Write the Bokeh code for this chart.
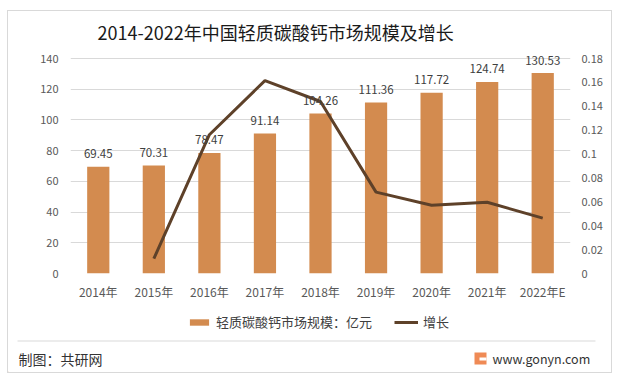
from bokeh.plotting import figure
from bokeh.models import (ColumnDataSource, LinearAxis, Range1d, FactorRange, Legend, LegendItem,
                          LabelSet, FixedTicker, CustomJSTickFormatter)
from bokeh.layouts import column
from bokeh.embed import file_html
from bokeh.resources import INLINE
from bokeh.core.properties import value

# ---- data ----
years = ["2014年", "2015年", "2016年", "2017年", "2018年", "2019年", "2020年", "2021年", "2022年E"]
market = [69.45, 70.31, 78.47, 91.14, 104.26, 111.36, 117.72, 124.74, 130.53]
growth_years = ["2015年", "2016年", "2017年", "2018年", "2019年", "2020年", "2021年", "2022年E"]
growth = [0.0124, 0.1162, 0.1615, 0.1440, 0.0681, 0.0571, 0.0596, 0.0464]
left_ticks = [0, 20, 40, 60, 80, 100, 120, 140]
right_ticks = [0, 0.02, 0.04, 0.06, 0.08, 0.10, 0.12, 0.14, 0.16, 0.18]
left_max, right_max = 140, 0.18
title_text = "2014-2022年中国轻质碳酸钙市场规模及增长"
bar_name = "轻质碳酸钙市场规模：亿元"
line_name = "增长"
source_text = "制图：共研网"
site_text = "www.gonyn.com"

FONT = "Noto Sans CJK SC"
BAR_C = "#D38B4F"
LINE_C = "#5E4129"
GRID_C = "#D9D9D9"
TXT_C = "#595959"
W = 603


def blank(height):
    fig = figure(width=W, height=height, x_range=Range1d(0, W), y_range=Range1d(0, height),
                 output_backend="svg", toolbar_location=None, min_border=0,
                 x_axis_location=None, y_axis_location=None, frame_align=False,
                 background_fill_color="white", border_fill_color="white")
    fig.grid.visible = False
    fig.outline_line_color = None
    return fig


# ---- header (title) ----
h = blank(37)
h.text(x=[89], y=[17], text=[title_text], text_font=value(FONT), text_font_size="18px",
       text_baseline="middle", text_color="#1A1A1A")

# ---- main chart ----
plot_h = 215          # pixel height of 0..140
pad_top = 8           # extra pixels above the top gridline
ymax = left_max * (plot_h + pad_top) / plot_h
ymax_r = right_max * (plot_h + pad_top) / plot_h

src = ColumnDataSource(dict(year=years, market=market, label=[f"{v:.2f}" for v in market]))

p = figure(x_range=FactorRange(*years), y_range=Range1d(0, ymax),
           width=W, height=257, output_backend="svg", toolbar_location=None,
           min_border_left=62, min_border_right=41, min_border_top=2, min_border_bottom=32,
           frame_align=False, background_fill_color="white", border_fill_color="white")
p.outline_line_color = None
p.extra_y_ranges = {"g": Range1d(0, ymax_r)}

p.yaxis.ticker = FixedTicker(ticks=left_ticks)
for ax in [p.xaxis[0], p.yaxis[0]]:
    ax.axis_line_color = None
    ax.major_tick_line_color = None
    ax.minor_tick_line_color = None
    ax.major_tick_out = 0
    ax.major_tick_in = 0
    ax.major_label_text_font = FONT
    ax.major_label_text_color = TXT_C
p.yaxis.major_label_text_font_size = "11px"
p.yaxis.major_label_standoff = 12
p.xaxis.major_label_text_font_size = "12px"
p.xaxis.major_label_standoff = 9

ra = LinearAxis(y_range_name="g", ticker=FixedTicker(ticks=right_ticks),
                formatter=CustomJSTickFormatter(code="return tick.toFixed(2).replace(/\\.?0+$/, '');"))
ra.axis_line_color = None
ra.major_tick_line_color = None
ra.minor_tick_line_color = None
ra.major_tick_out = 0
ra.major_tick_in = 0
ra.major_label_text_font = FONT
ra.major_label_text_color = TXT_C
ra.major_label_text_font_size = "11px"
ra.major_label_standoff = 11
p.add_layout(ra, "right")

p.xgrid.grid_line_color = None
p.ygrid.grid_line_color = GRID_C
p.ygrid.grid_line_width = 1

bars = p.vbar(x="year", top="market", width=0.4, source=src, fill_color=BAR_C, line_color=None)
ln = p.line(x=growth_years, y=growth, y_range_name="g", line_color=LINE_C, line_width=3)

labels = LabelSet(x="year", y="market", text="label", source=src, text_align="center",
                  text_baseline="middle", y_offset=13, text_font=value(FONT),
                  text_font_size="11.5px", text_color="#404040")
p.add_layout(labels)

# ---- footer (legend + source) ----
f = blank(67)
lb = f.vbar(x=[-1000], top=[1], width=1, fill_color=BAR_C, line_color=None)
ll = f.line(x=[-1000, -999], y=[1, 1], line_color=LINE_C, line_width=3)
legend = Legend(items=[LegendItem(label=bar_name, renderers=[lb]),
                       LegendItem(label=line_name, renderers=[ll])],
                orientation="horizontal", location=(179, 41),
                glyph_width=24, glyph_height=8, label_height=16, label_standoff=5,
                spacing=22, padding=0, margin=0, border_line_color=None,
                background_fill_alpha=0, label_text_font=FONT, label_text_font_size="13px",
                label_text_color="#404040")
f.add_layout(legend, "center")
f.segment(x0=[9], y0=[31.5], x1=[587], y1=[31.5], line_color=GRID_C, line_width=1)
f.text(x=[10], y=[14], text=[source_text], text_font=value(FONT), text_font_size="14px",
       text_baseline="middle", text_color="#333333")
f.quad(left=[466], right=[478], bottom=[8], top=[20], fill_color="#EF8A55", line_color=None)
f.quad(left=[471], right=[478], bottom=[12], top=[15], fill_color="white", line_color=None)
f.text(x=[484], y=[14], text=[site_text], text_font=value(FONT), text_font_size="12.5px",
       text_baseline="middle", text_color="#333333")

layout = column(h, p, f, spacing=0,
                styles={"border": "1px solid #D9D9D9", "margin-left": "7px", "margin-top": "10px"})
open("out.html", "w").write(file_html(layout, INLINE))
